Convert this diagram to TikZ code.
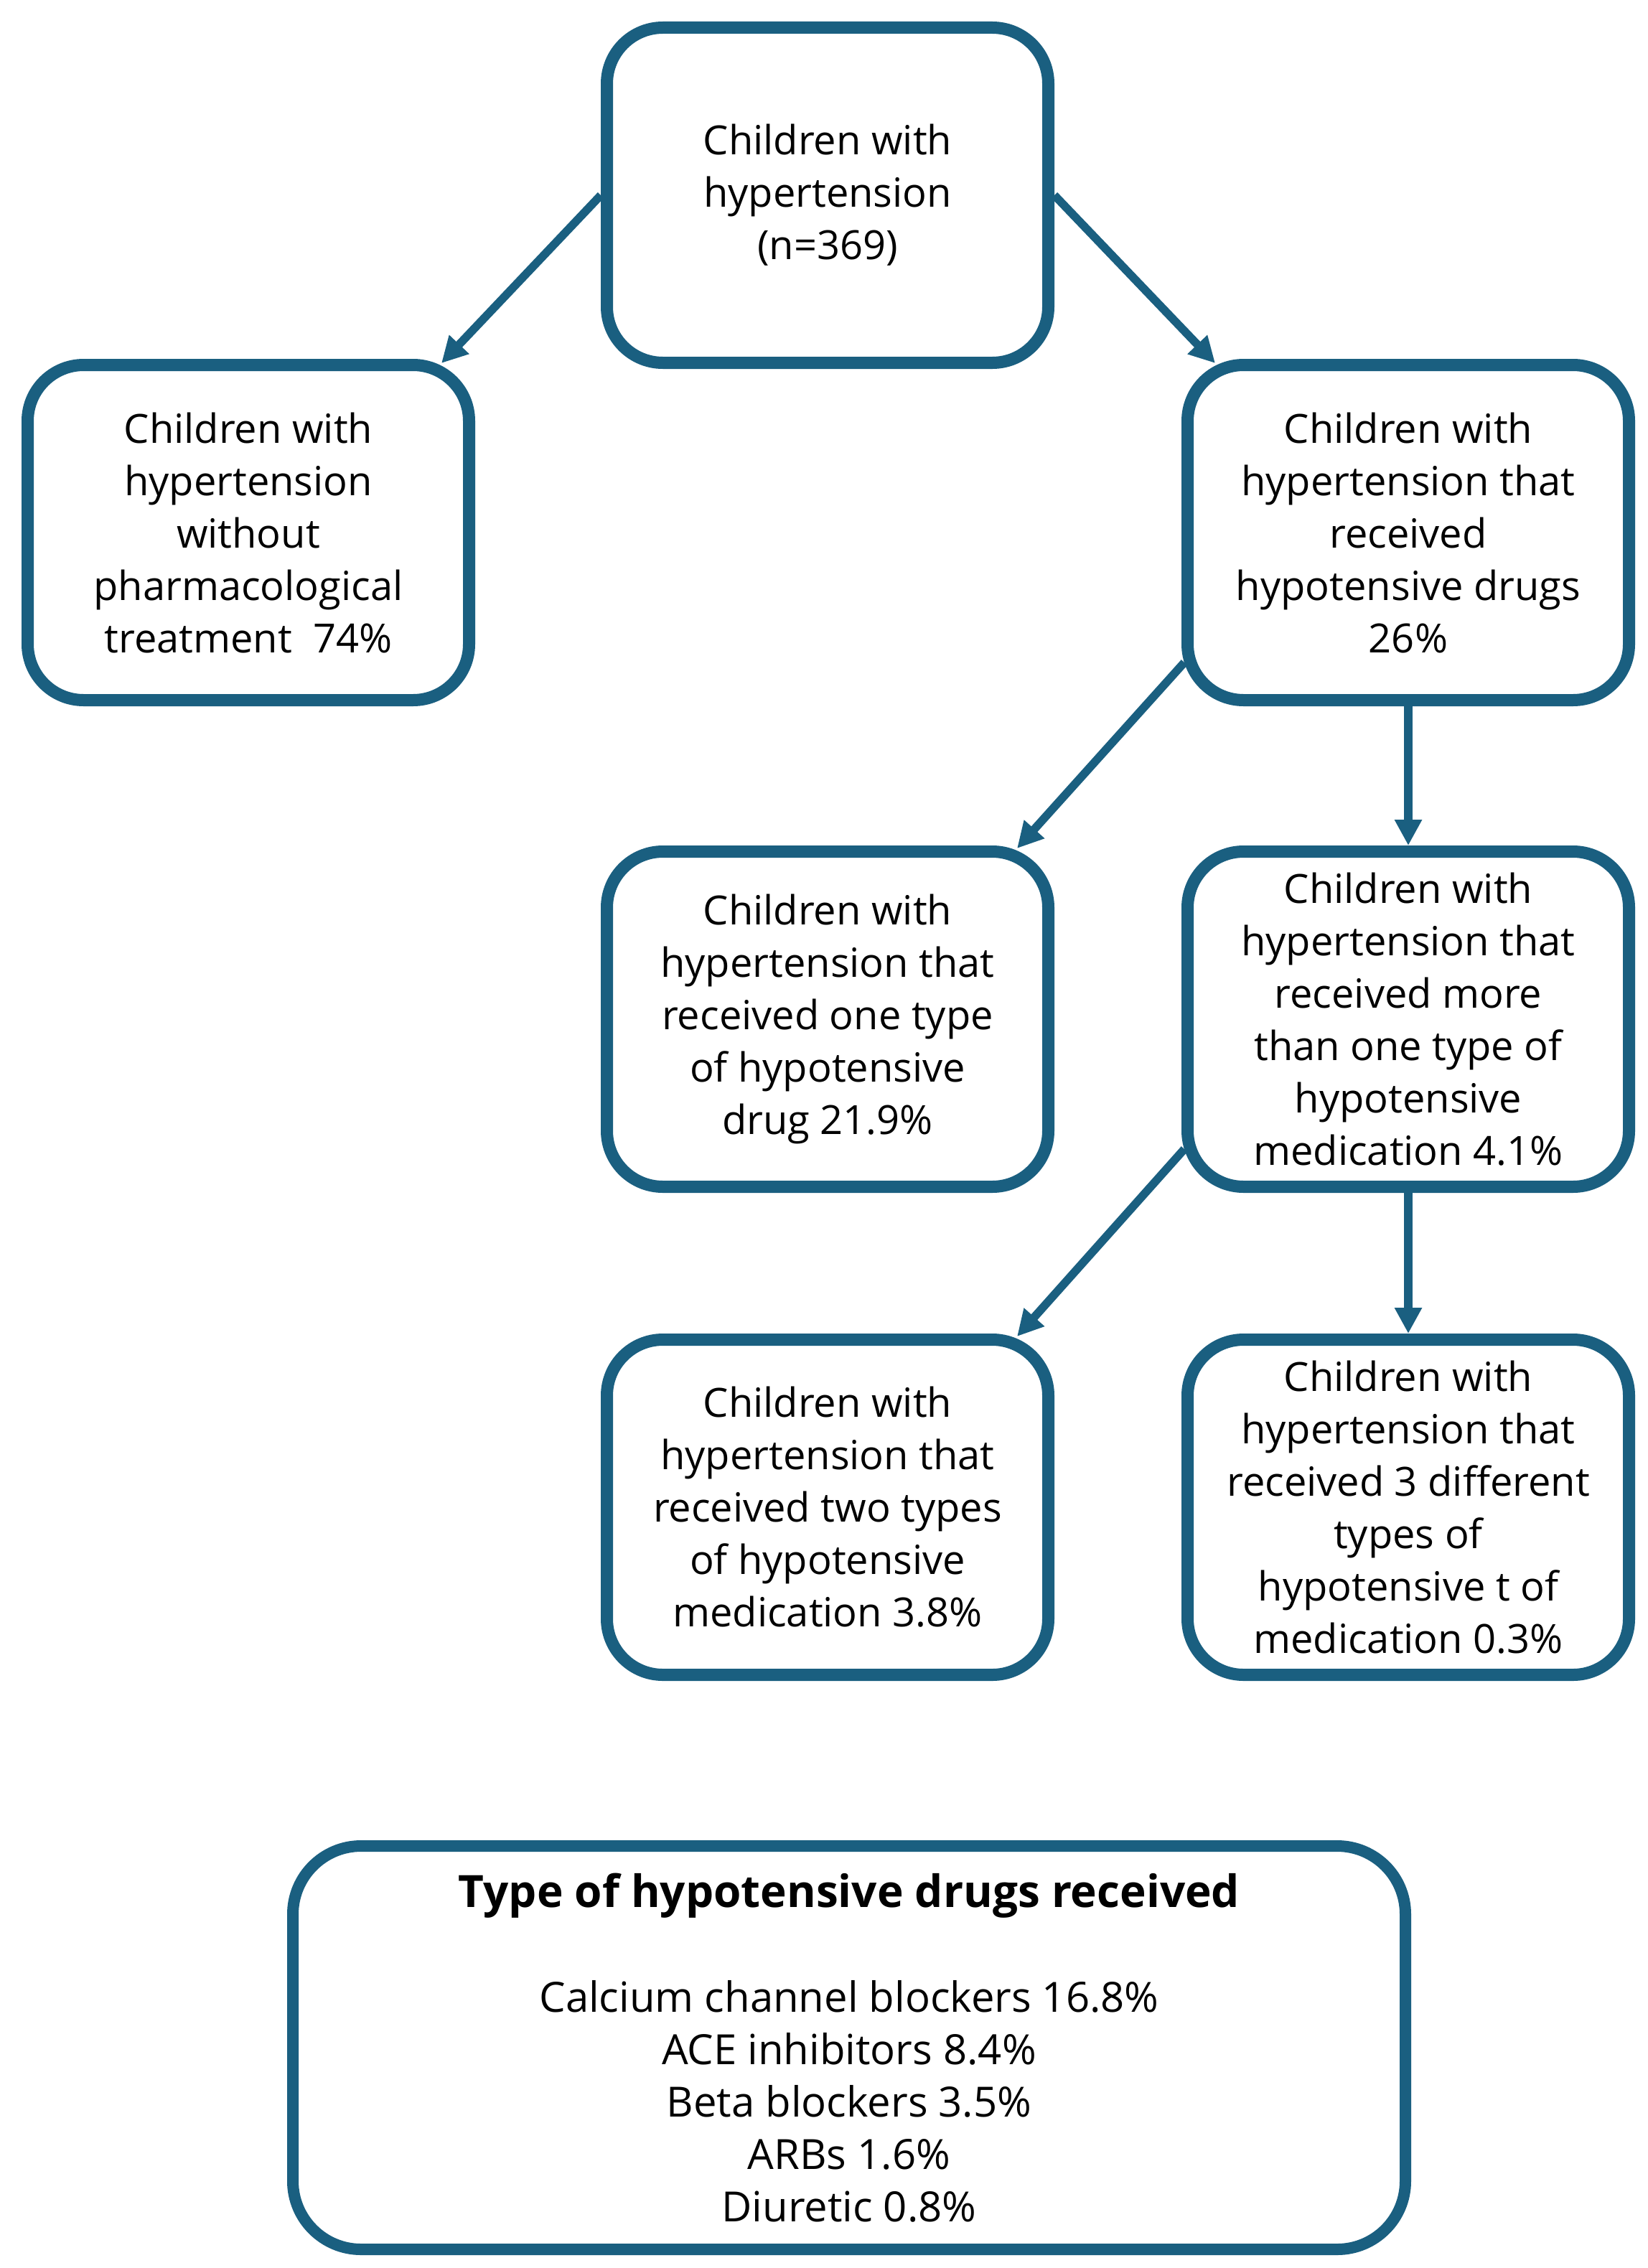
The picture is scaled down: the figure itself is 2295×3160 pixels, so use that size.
\documentclass[tikz,border=0pt]{standalone}
\usepackage{fontspec}
\setmainfont{Open Sans}
\usetikzlibrary{arrows.meta,calc}
\definecolor{boxblue}{RGB}{26,95,128}
\begin{document}
\begin{tikzpicture}[x=1pt,y=-1pt,
  flowbox/.style={draw=boxblue, line width=17pt, rounded corners=78pt, fill=white,
    minimum width=615pt, minimum height=467pt, inner sep=0pt, align=center,
    font=\fontsize{56}{73}\selectfont},
  sumbox/.style={flowbox, minimum width=1550pt, minimum height=562pt, rounded corners=95pt, line width=16pt,
    font=\fontsize{58}{73}\selectfont},
  flowarrow/.style={draw=boxblue, line width=11.5pt, -{Triangle[length=36pt,width=36pt]}}]
\fill[white] (0,0) rectangle (2295,3160);
\useasboundingbox (0,0) rectangle (2295,3160);

\node[flowbox] (top) at (1153,272) {Children with\\hypertension\\(n=369)};
\node[flowbox] (left) at (346,742) {Children with\\hypertension\\without\\pharmacological\\treatment~ 74\%};
\node[flowbox] (right1) at (1962,742) {Children with\\hypertension that\\received\\hypotensive drugs\\26\%};
\node[flowbox] (mid) at (1153,1420) {Children with\\hypertension that\\received one type\\of hypotensive\\drug 21.9\%};
\node[flowbox] (more) at (1962,1420) {Children with\\hypertension that\\received more\\than one type of\\hypotensive\\medication 4.1\%};
\node[flowbox] (two) at (1153,2100) {Children with\\hypertension that\\received two types\\of hypotensive\\medication 3.8\%};
\node[flowbox] (three) at (1962,2100) {Children with\\hypertension that\\received 3 different\\types of\\hypotensive t of\\medication 0.3\%};
\node[sumbox] (sum) at (1183,2853) {{\fontsize{62}{73}\selectfont\bfseries Type of hypotensive drugs received}\\[73pt]Calcium channel blockers 16.8\%\\ACE inhibitors 8.4\%\\Beta blockers 3.5\%\\ARBs 1.6\%\\Diuretic 0.8\%};

\draw[flowarrow] (top.west) -- ($(left.north east)+(-47,6)$);
\draw[flowarrow] (top.east) -- ($(right1.north west)+(47,6)$);
\draw[flowarrow] (right1.south) -- (more.north);
\draw[flowarrow] ($(right1.south west)+(4,-61)$) -- ($(mid.north east)+(-52,4)$);
\draw[flowarrow] ($(more.south west)+(4,-61)$) -- ($(two.north east)+(-52,4)$);
\draw[flowarrow] (more.south) -- (three.north);
\end{tikzpicture}
\end{document}
